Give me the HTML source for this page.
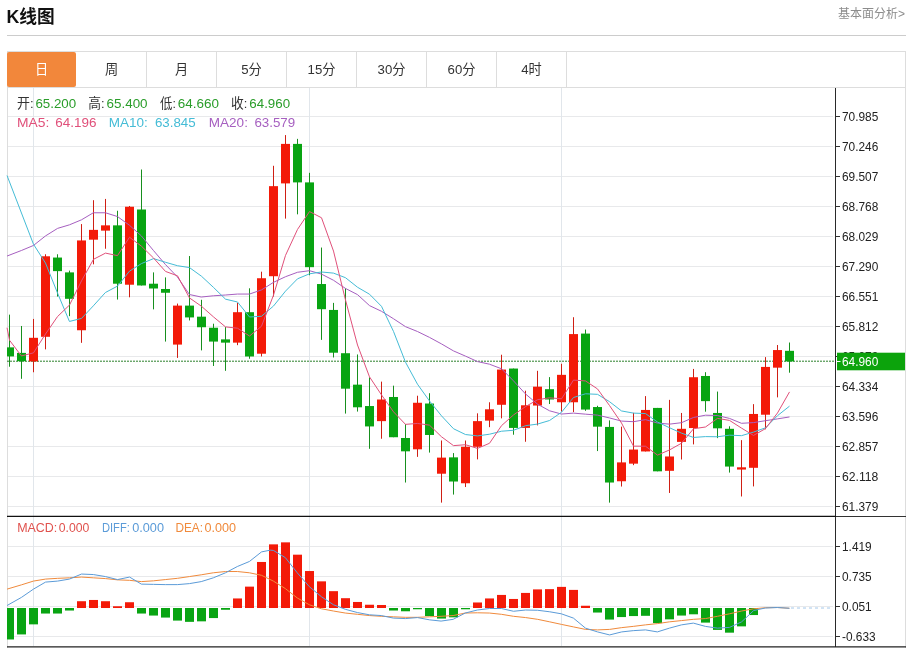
<!DOCTYPE html>
<html lang="zh-CN"><head><meta charset="utf-8"><title>K线图</title>
<style>
html,body{margin:0;padding:0;background:#fff;}
body{width:914px;height:648px;position:relative;overflow:hidden;font-family:"Liberation Sans","Noto Sans CJK SC",sans-serif;color:#333;}
.title{position:absolute;left:6.6px;top:4.6px;font-size:17.7px;font-weight:bold;color:#111;line-height:24px;white-space:nowrap;}
.more{position:absolute;right:9px;top:5px;font-size:12px;color:#8c8c8c;line-height:18px;white-space:nowrap;}
.hr{position:absolute;left:7px;width:899px;top:35px;height:1px;background:#ccc;}
.tabs{position:absolute;left:7px;top:51px;width:897px;height:35px;border:1px solid #ddd;background:#fff;}
.tab{position:absolute;top:0;height:35px;width:69px;border-right:1px solid #ddd;text-align:center;line-height:36px;font-size:13.2px;color:#333;}
.tab.on{background:#f2873b;color:#fff;border-right-color:#f2873b;border-radius:2px;top:0;height:35px;}
.chart{position:absolute;left:0;top:88px;}
.ax{font-family:"Liberation Sans",sans-serif;font-size:13px;}
.inf{font-family:"Liberation Sans","Noto Sans CJK SC",sans-serif;font-size:13.3px;}
</style></head><body>
<div class="title">K线图</div>
<div class="more">基本面分析&gt;</div>
<div class="hr"></div>
<div class="tabs">
<div class="tab on" style="left:-1px;width:69.4px;border-right:none">日</div>
<div class="tab" style="left:69px">周</div>
<div class="tab" style="left:139px">月</div>
<div class="tab" style="left:209px">5分</div>
<div class="tab" style="left:279px">15分</div>
<div class="tab" style="left:349px">30分</div>
<div class="tab" style="left:419px">60分</div>
<div class="tab" style="left:489px">4时</div>
</div>
<svg class="chart" width="914" height="560" viewBox="0 88 914 560" shape-rendering="auto">
<line x1="7" x2="833" y1="116.5" y2="116.5" stroke="#e8e9eb" stroke-width="1"/>
<line x1="7" x2="833" y1="146.5" y2="146.5" stroke="#e8e9eb" stroke-width="1"/>
<line x1="7" x2="833" y1="176.5" y2="176.5" stroke="#e8e9eb" stroke-width="1"/>
<line x1="7" x2="833" y1="206.5" y2="206.5" stroke="#e8e9eb" stroke-width="1"/>
<line x1="7" x2="833" y1="236.5" y2="236.5" stroke="#e8e9eb" stroke-width="1"/>
<line x1="7" x2="833" y1="266.5" y2="266.5" stroke="#e8e9eb" stroke-width="1"/>
<line x1="7" x2="833" y1="296.5" y2="296.5" stroke="#e8e9eb" stroke-width="1"/>
<line x1="7" x2="833" y1="326.5" y2="326.5" stroke="#e8e9eb" stroke-width="1"/>
<line x1="7" x2="833" y1="356.5" y2="356.5" stroke="#e8e9eb" stroke-width="1"/>
<line x1="7" x2="833" y1="386.5" y2="386.5" stroke="#e8e9eb" stroke-width="1"/>
<line x1="7" x2="833" y1="416.5" y2="416.5" stroke="#e8e9eb" stroke-width="1"/>
<line x1="7" x2="833" y1="446.5" y2="446.5" stroke="#e8e9eb" stroke-width="1"/>
<line x1="7" x2="833" y1="476.5" y2="476.5" stroke="#e8e9eb" stroke-width="1"/>
<line x1="7" x2="833" y1="506.5" y2="506.5" stroke="#e8e9eb" stroke-width="1"/>
<line x1="7" x2="833" y1="546.5" y2="546.5" stroke="#e8e9eb" stroke-width="1"/>
<line x1="7" x2="833" y1="576.5" y2="576.5" stroke="#e8e9eb" stroke-width="1"/>
<line x1="7" x2="833" y1="606.5" y2="606.5" stroke="#e8e9eb" stroke-width="1"/>
<line x1="7" x2="833" y1="636.5" y2="636.5" stroke="#e8e9eb" stroke-width="1"/>
<line x1="33.5" x2="33.5" y1="88" y2="646" stroke="#e1e6eb" stroke-width="1"/>
<line x1="309.5" x2="309.5" y1="88" y2="646" stroke="#e1e6eb" stroke-width="1"/>
<line x1="561.5" x2="561.5" y1="88" y2="646" stroke="#e1e6eb" stroke-width="1"/>
<line x1="7.5" x2="7.5" y1="88" y2="648" stroke="#ddd" stroke-width="1"/>
<line x1="905.5" x2="905.5" y1="88" y2="648" stroke="#ddd" stroke-width="1"/>
<line x1="7" x2="835" y1="361.2" y2="361.2" stroke="#2a802a" stroke-width="1" stroke-dasharray="2,1"/>
<defs><clipPath id="cp"><rect x="7" y="88" width="828" height="560"/></clipPath></defs>
<g clip-path="url(#cp)">
<line x1="9.5" x2="9.5" y1="314.65" y2="366.73" stroke="#178f1e" stroke-width="1"/>
<rect x="5" y="347.36" width="9" height="9.06" fill="#08a412"/>
<line x1="21.5" x2="21.5" y1="325.97" y2="378.81" stroke="#178f1e" stroke-width="1"/>
<rect x="17" y="352.89" width="9" height="8.3" fill="#08a412"/>
<line x1="33.5" x2="33.5" y1="318.93" y2="372.26" stroke="#cf1f14" stroke-width="1"/>
<rect x="29" y="337.8" width="9" height="23.65" fill="#f31a08"/>
<line x1="45.5" x2="45.5" y1="254.28" y2="349.37" stroke="#cf1f14" stroke-width="1"/>
<rect x="41" y="256.29" width="9" height="80.5" fill="#f31a08"/>
<line x1="57.5" x2="57.5" y1="254.28" y2="296.54" stroke="#178f1e" stroke-width="1"/>
<rect x="53" y="257.55" width="9" height="13.58" fill="#08a412"/>
<line x1="69.5" x2="69.5" y1="270.63" y2="316.16" stroke="#178f1e" stroke-width="1"/>
<rect x="65" y="272.39" width="9" height="26.42" fill="#08a412"/>
<line x1="81.5" x2="81.5" y1="224.09" y2="342.83" stroke="#cf1f14" stroke-width="1"/>
<rect x="77" y="240.44" width="9" height="89.81" fill="#f31a08"/>
<line x1="93.5" x2="93.5" y1="200.19" y2="264.34" stroke="#cf1f14" stroke-width="1"/>
<rect x="89" y="229.87" width="9" height="9.81" fill="#f31a08"/>
<line x1="105.5" x2="105.5" y1="198.93" y2="248.74" stroke="#cf1f14" stroke-width="1"/>
<rect x="101" y="225.35" width="9" height="5.28" fill="#f31a08"/>
<line x1="117.5" x2="117.5" y1="210.75" y2="299.56" stroke="#178f1e" stroke-width="1"/>
<rect x="113" y="225.35" width="9" height="58.36" fill="#08a412"/>
<line x1="129.5" x2="129.5" y1="205.97" y2="297.3" stroke="#cf1f14" stroke-width="1"/>
<rect x="125" y="206.73" width="9" height="77.99" fill="#f31a08"/>
<line x1="141.5" x2="141.5" y1="169.5" y2="285.47" stroke="#178f1e" stroke-width="1"/>
<rect x="137" y="209.5" width="9" height="75.97" fill="#08a412"/>
<line x1="153.5" x2="153.5" y1="272.39" y2="309.37" stroke="#178f1e" stroke-width="1"/>
<rect x="149" y="283.71" width="9" height="4.78" fill="#08a412"/>
<line x1="165.5" x2="165.5" y1="277.42" y2="341.57" stroke="#178f1e" stroke-width="1"/>
<rect x="161" y="288.99" width="9" height="3.77" fill="#08a412"/>
<line x1="177.5" x2="177.5" y1="303.58" y2="357.92" stroke="#cf1f14" stroke-width="1"/>
<rect x="173" y="305.6" width="9" height="38.99" fill="#f31a08"/>
<line x1="189.5" x2="189.5" y1="256.04" y2="320.44" stroke="#178f1e" stroke-width="1"/>
<rect x="185" y="305.6" width="9" height="11.82" fill="#08a412"/>
<line x1="201.5" x2="201.5" y1="299.81" y2="350.38" stroke="#178f1e" stroke-width="1"/>
<rect x="197" y="316.67" width="9" height="10.57" fill="#08a412"/>
<line x1="213.5" x2="213.5" y1="323.71" y2="365.97" stroke="#178f1e" stroke-width="1"/>
<rect x="209" y="327.74" width="9" height="13.84" fill="#08a412"/>
<line x1="225.5" x2="225.5" y1="327.04" y2="370.82" stroke="#178f1e" stroke-width="1"/>
<rect x="221" y="339.37" width="9" height="3.27" fill="#08a412"/>
<line x1="237.5" x2="237.5" y1="302.89" y2="345.16" stroke="#cf1f14" stroke-width="1"/>
<rect x="233" y="312.2" width="9" height="30.44" fill="#f31a08"/>
<line x1="249.5" x2="249.5" y1="288.3" y2="358.74" stroke="#178f1e" stroke-width="1"/>
<rect x="245" y="312.2" width="9" height="44.28" fill="#08a412"/>
<line x1="261.5" x2="261.5" y1="271.7" y2="356.48" stroke="#cf1f14" stroke-width="1"/>
<rect x="257" y="278.24" width="9" height="75.47" fill="#f31a08"/>
<line x1="273.5" x2="273.5" y1="165.79" y2="296.6" stroke="#cf1f14" stroke-width="1"/>
<rect x="269" y="186.16" width="9" height="90.06" fill="#f31a08"/>
<line x1="285.5" x2="285.5" y1="135.09" y2="218.62" stroke="#cf1f14" stroke-width="1"/>
<rect x="281" y="143.9" width="9" height="39.5" fill="#f31a08"/>
<line x1="297.5" x2="297.5" y1="138.87" y2="214.34" stroke="#178f1e" stroke-width="1"/>
<rect x="293" y="143.9" width="9" height="38.49" fill="#08a412"/>
<line x1="309.5" x2="309.5" y1="172.83" y2="275.22" stroke="#178f1e" stroke-width="1"/>
<rect x="305" y="182.39" width="9" height="84.78" fill="#08a412"/>
<line x1="321.5" x2="321.5" y1="247.55" y2="339.87" stroke="#178f1e" stroke-width="1"/>
<rect x="317" y="284.03" width="9" height="25.16" fill="#08a412"/>
<line x1="333.5" x2="333.5" y1="302.89" y2="357.48" stroke="#178f1e" stroke-width="1"/>
<rect x="329" y="309.94" width="9" height="42.77" fill="#08a412"/>
<line x1="345.5" x2="345.5" y1="288.3" y2="413.58" stroke="#178f1e" stroke-width="1"/>
<rect x="341" y="353.21" width="9" height="35.47" fill="#08a412"/>
<line x1="357.5" x2="357.5" y1="354.47" y2="411.57" stroke="#178f1e" stroke-width="1"/>
<rect x="353" y="384.65" width="9" height="22.64" fill="#08a412"/>
<line x1="369.5" x2="369.5" y1="377.36" y2="448.81" stroke="#178f1e" stroke-width="1"/>
<rect x="365" y="406.04" width="9" height="20.38" fill="#08a412"/>
<line x1="381.5" x2="381.5" y1="381.64" y2="438.74" stroke="#cf1f14" stroke-width="1"/>
<rect x="377" y="399.5" width="9" height="21.64" fill="#f31a08"/>
<line x1="393.5" x2="393.5" y1="385.66" y2="437.23" stroke="#178f1e" stroke-width="1"/>
<rect x="389" y="396.98" width="9" height="40.25" fill="#08a412"/>
<line x1="405.5" x2="405.5" y1="424.15" y2="482.52" stroke="#178f1e" stroke-width="1"/>
<rect x="401" y="437.99" width="9" height="13.33" fill="#08a412"/>
<line x1="417.5" x2="417.5" y1="395.72" y2="456.86" stroke="#cf1f14" stroke-width="1"/>
<rect x="413" y="402.77" width="9" height="46.54" fill="#f31a08"/>
<line x1="429.5" x2="429.5" y1="393.21" y2="452.58" stroke="#178f1e" stroke-width="1"/>
<rect x="425" y="403.52" width="9" height="31.45" fill="#08a412"/>
<line x1="441.5" x2="441.5" y1="440.5" y2="502.64" stroke="#cf1f14" stroke-width="1"/>
<rect x="437" y="457.61" width="9" height="16.1" fill="#f31a08"/>
<line x1="453.5" x2="453.5" y1="453.08" y2="494.59" stroke="#178f1e" stroke-width="1"/>
<rect x="449" y="457.36" width="9" height="24.15" fill="#08a412"/>
<line x1="465.5" x2="465.5" y1="440.5" y2="487.04" stroke="#cf1f14" stroke-width="1"/>
<rect x="461" y="446.79" width="9" height="36.48" fill="#f31a08"/>
<line x1="477.5" x2="477.5" y1="413.33" y2="459.37" stroke="#cf1f14" stroke-width="1"/>
<rect x="473" y="421.13" width="9" height="25.66" fill="#f31a08"/>
<line x1="489.5" x2="489.5" y1="402.26" y2="427.17" stroke="#cf1f14" stroke-width="1"/>
<rect x="485" y="409.31" width="9" height="11.32" fill="#f31a08"/>
<line x1="501.5" x2="501.5" y1="354.72" y2="418.36" stroke="#cf1f14" stroke-width="1"/>
<rect x="497" y="369.56" width="9" height="35.22" fill="#f31a08"/>
<line x1="513.5" x2="513.5" y1="368.55" y2="434.72" stroke="#178f1e" stroke-width="1"/>
<rect x="509" y="368.55" width="9" height="59.37" fill="#08a412"/>
<line x1="525.5" x2="525.5" y1="390.69" y2="441.76" stroke="#cf1f14" stroke-width="1"/>
<rect x="521" y="405.28" width="9" height="22.64" fill="#f31a08"/>
<line x1="537.5" x2="537.5" y1="370.82" y2="425.41" stroke="#cf1f14" stroke-width="1"/>
<rect x="533" y="386.67" width="9" height="18.87" fill="#f31a08"/>
<line x1="549.5" x2="549.5" y1="377.11" y2="404.03" stroke="#178f1e" stroke-width="1"/>
<rect x="545" y="389.18" width="9" height="10.31" fill="#08a412"/>
<line x1="561.5" x2="561.5" y1="363.77" y2="411.57" stroke="#cf1f14" stroke-width="1"/>
<rect x="557" y="374.84" width="9" height="27.42" fill="#f31a08"/>
<line x1="573.5" x2="573.5" y1="317.23" y2="412.08" stroke="#cf1f14" stroke-width="1"/>
<rect x="569" y="334.09" width="9" height="68.18" fill="#f31a08"/>
<line x1="585.5" x2="585.5" y1="329.56" y2="410.82" stroke="#178f1e" stroke-width="1"/>
<rect x="581" y="333.58" width="9" height="75.97" fill="#08a412"/>
<line x1="597.5" x2="597.5" y1="405.79" y2="451.07" stroke="#178f1e" stroke-width="1"/>
<rect x="593" y="407.04" width="9" height="19.62" fill="#08a412"/>
<line x1="609.5" x2="609.5" y1="420.38" y2="502.64" stroke="#178f1e" stroke-width="1"/>
<rect x="605" y="426.92" width="9" height="55.6" fill="#08a412"/>
<line x1="621.5" x2="621.5" y1="426.67" y2="486.54" stroke="#cf1f14" stroke-width="1"/>
<rect x="617" y="462.39" width="9" height="18.87" fill="#f31a08"/>
<line x1="633.5" x2="633.5" y1="412.83" y2="465.16" stroke="#cf1f14" stroke-width="1"/>
<rect x="629" y="449.56" width="9" height="14.09" fill="#f31a08"/>
<line x1="645.5" x2="645.5" y1="396.1" y2="451.45" stroke="#cf1f14" stroke-width="1"/>
<rect x="641" y="409.94" width="9" height="41.51" fill="#f31a08"/>
<line x1="657.5" x2="657.5" y1="407.92" y2="471.32" stroke="#178f1e" stroke-width="1"/>
<rect x="653" y="407.92" width="9" height="63.4" fill="#08a412"/>
<line x1="669.5" x2="669.5" y1="399.87" y2="492.96" stroke="#cf1f14" stroke-width="1"/>
<rect x="665" y="456.48" width="9" height="14.34" fill="#f31a08"/>
<line x1="681.5" x2="681.5" y1="412.96" y2="459.5" stroke="#cf1f14" stroke-width="1"/>
<rect x="677" y="428.81" width="9" height="13.08" fill="#f31a08"/>
<line x1="693.5" x2="693.5" y1="368.93" y2="444.4" stroke="#cf1f14" stroke-width="1"/>
<rect x="689" y="377.23" width="9" height="50.82" fill="#f31a08"/>
<line x1="705.5" x2="705.5" y1="372.2" y2="411.7" stroke="#178f1e" stroke-width="1"/>
<rect x="701" y="375.97" width="9" height="25.16" fill="#08a412"/>
<line x1="717.5" x2="717.5" y1="391.57" y2="438.11" stroke="#178f1e" stroke-width="1"/>
<rect x="713" y="412.96" width="9" height="15.35" fill="#08a412"/>
<line x1="729.5" x2="729.5" y1="426.29" y2="472.58" stroke="#178f1e" stroke-width="1"/>
<rect x="725" y="428.81" width="9" height="37.74" fill="#08a412"/>
<line x1="741.5" x2="741.5" y1="440.13" y2="496.48" stroke="#cf1f14" stroke-width="1"/>
<rect x="737" y="467.3" width="9" height="2.26" fill="#f31a08"/>
<line x1="753.5" x2="753.5" y1="404.15" y2="486.42" stroke="#cf1f14" stroke-width="1"/>
<rect x="749" y="413.96" width="9" height="53.84" fill="#f31a08"/>
<line x1="765.5" x2="765.5" y1="357.11" y2="429.31" stroke="#cf1f14" stroke-width="1"/>
<rect x="761" y="366.92" width="9" height="47.8" fill="#f31a08"/>
<line x1="777.5" x2="777.5" y1="345.03" y2="397.36" stroke="#cf1f14" stroke-width="1"/>
<rect x="773" y="350.06" width="9" height="17.61" fill="#f31a08"/>
<line x1="789.5" x2="789.5" y1="342.52" y2="372.7" stroke="#178f1e" stroke-width="1"/>
<rect x="785" y="350.82" width="9" height="10.57" fill="#08a412"/>
</g>
<polyline points="7.04,256.04 21.38,250.5 33.46,245.47 45.53,235.91 57.61,228.36 69.43,224.84 81.51,219.81 93.33,212.77 105.41,212.77 117.48,216.54 129.56,225.35 141.38,235.91 153.46,250.5 165.28,264.34 177.36,276.92 189.43,294.53 201.26,297.04 213.33,295.79 225.41,295.03 237.5,294.06 249.5,294.06 261.5,289.91 273.5,282.33 285.5,276.71 297.5,272.27 309.5,270.69 321.5,274.13 333.5,280.27 345.5,288.44 357.5,294.62 369.5,305.6 381.5,311.3 393.5,318.74 405.5,326.67 417.5,331.53 429.5,337.4 441.5,343.92 453.5,350.92 465.5,356.13 477.5,361.57 489.5,364.21 501.5,368.78 513.5,380.87 525.5,393.94 537.5,404.15 549.5,410.77 561.5,414.05 573.5,413.12 585.5,414.16 597.5,415.13 609.5,417.94 621.5,421.08 633.5,421.7 645.5,419.63 657.5,423.06 669.5,424.13 681.5,422.69 693.5,417.48 705.5,415.2 717.5,415.55 729.5,418.42 741.5,423.3 753.5,422.6 765.5,420.69 777.5,418.86 789.5,416.95" fill="none" stroke="#a65fc0" stroke-width="1.0" stroke-linejoin="round"/>
<polyline points="7.04,175.53 33.46,244.21 45.53,263.08 57.61,293.27 69.43,321.45 81.51,318.43 93.33,305.85 105.41,292.52 117.5,286.1 129.5,271.13 141.5,263.56 153.5,258.63 165.5,262.28 177.5,265.72 189.5,267.58 201.5,276.26 213.5,287.43 225.5,299.16 237.5,302.01 249.5,316.99 261.5,316.26 273.5,306.03 285.5,291.14 297.5,278.82 309.5,273.8 321.5,271.99 333.5,273.11 345.5,277.71 357.5,287.22 369.5,294.21 381.5,306.34 393.5,331.45 405.5,362.19 417.5,384.23 429.5,401.01 441.5,415.85 453.5,428.73 465.5,434.54 477.5,435.92 489.5,434.21 501.5,431.22 513.5,430.29 525.5,425.69 537.5,424.08 549.5,420.53 561.5,412.25 573.5,397.51 585.5,393.79 597.5,394.34 609.5,401.66 621.5,410.94 633.5,413.11 645.5,413.57 657.5,422.04 669.5,427.74 681.5,433.13 693.5,437.45 705.5,436.6 717.5,436.77 729.5,435.17 741.5,435.66 753.5,432.1 765.5,427.8 777.5,415.67 789.5,406.16" fill="none" stroke="#45bcd6" stroke-width="1.0" stroke-linejoin="round"/>
<polyline points="7.04,327.74 9.56,340.31 21.38,355.91 33.46,352.89 45.53,334.03 57.5,316.57 69.5,305.04 81.5,280.89 93.5,259.31 105.5,253.12 117.5,255.64 129.5,237.22 141.5,246.23 153.5,257.95 165.5,271.43 177.5,275.81 189.5,297.95 201.5,306.3 213.5,316.92 225.5,326.89 237.5,328.21 249.5,336.03 261.5,326.23 273.5,295.14 285.5,255.4 297.5,229.43 309.5,211.57 321.5,217.76 333.5,251.07 345.5,300.03 357.5,345.01 369.5,376.86 381.5,394.92 393.5,411.82 405.5,424.35 417.5,423.45 429.5,425.16 441.5,436.78 453.5,445.64 465.5,444.73 477.5,448.4 489.5,443.27 501.5,425.66 513.5,414.94 525.5,406.64 537.5,399.75 549.5,397.79 561.5,398.84 573.5,380.08 585.5,380.93 597.5,388.93 609.5,405.53 621.5,423.04 633.5,446.14 645.5,446.21 657.5,455.14 669.5,449.94 681.5,443.22 693.5,428.75 705.5,426.99 717.5,418.39 729.5,420.4 741.5,428.1 753.5,435.45 765.5,428.6 777.5,412.96 789.5,391.92" fill="none" stroke="#e0507a" stroke-width="1.0" stroke-linejoin="round"/>
<rect x="7" y="608.01" width="7" height="31.45" fill="#08a412"/>
<rect x="17" y="608.01" width="9" height="26.42" fill="#08a412"/>
<rect x="29" y="608.01" width="9" height="16.35" fill="#08a412"/>
<rect x="41" y="608.01" width="9" height="5.53" fill="#08a412"/>
<rect x="53" y="608.01" width="9" height="5.53" fill="#08a412"/>
<rect x="65" y="608.01" width="9" height="2.52" fill="#08a412"/>
<rect x="77" y="601.22" width="9" height="6.79" fill="#f31a08"/>
<rect x="89" y="599.96" width="9" height="8.05" fill="#f31a08"/>
<rect x="101" y="601.22" width="9" height="6.79" fill="#f31a08"/>
<rect x="113" y="606.25" width="9" height="1.76" fill="#f31a08"/>
<rect x="125" y="602.23" width="9" height="5.79" fill="#f31a08"/>
<rect x="137" y="608.01" width="9" height="5.53" fill="#08a412"/>
<rect x="149" y="608.01" width="9" height="7.55" fill="#08a412"/>
<rect x="161" y="608.01" width="9" height="9.56" fill="#08a412"/>
<rect x="173" y="608.01" width="9" height="12.58" fill="#08a412"/>
<rect x="185" y="608.01" width="9" height="13.84" fill="#08a412"/>
<rect x="197" y="608.01" width="9" height="13.33" fill="#08a412"/>
<rect x="209" y="608.01" width="9" height="10.06" fill="#08a412"/>
<rect x="221" y="608.01" width="9" height="1.76" fill="#08a412"/>
<rect x="233" y="598.45" width="9" height="9.56" fill="#f31a08"/>
<rect x="245" y="586.63" width="9" height="21.38" fill="#f31a08"/>
<rect x="257" y="561.97" width="9" height="46.04" fill="#f31a08"/>
<rect x="269" y="544.36" width="9" height="63.65" fill="#f31a08"/>
<rect x="281" y="542.35" width="9" height="65.66" fill="#f31a08"/>
<rect x="293" y="554.68" width="9" height="53.33" fill="#f31a08"/>
<rect x="305" y="571.03" width="9" height="36.98" fill="#f31a08"/>
<rect x="317" y="581.35" width="9" height="26.67" fill="#f31a08"/>
<rect x="329" y="591.16" width="9" height="16.86" fill="#f31a08"/>
<rect x="341" y="598.2" width="9" height="9.81" fill="#f31a08"/>
<rect x="353" y="601.97" width="9" height="6.04" fill="#f31a08"/>
<rect x="365" y="604.74" width="9" height="3.27" fill="#f31a08"/>
<rect x="377" y="604.99" width="9" height="3.02" fill="#f31a08"/>
<rect x="389" y="608.01" width="9" height="2.52" fill="#08a412"/>
<rect x="401" y="608.01" width="9" height="3.27" fill="#08a412"/>
<rect x="413" y="608.01" width="9" height="1.26" fill="#08a412"/>
<rect x="425" y="608.01" width="9" height="8.05" fill="#08a412"/>
<rect x="437" y="608.01" width="9" height="10.57" fill="#08a412"/>
<rect x="449" y="608.01" width="9" height="9.31" fill="#08a412"/>
<rect x="461" y="608.01" width="9" height="1.26" fill="#08a412"/>
<rect x="473" y="602.48" width="9" height="5.53" fill="#f31a08"/>
<rect x="485" y="598.45" width="9" height="9.56" fill="#f31a08"/>
<rect x="497" y="594.93" width="9" height="13.08" fill="#f31a08"/>
<rect x="509" y="598.96" width="9" height="9.06" fill="#f31a08"/>
<rect x="521" y="592.92" width="9" height="15.09" fill="#f31a08"/>
<rect x="533" y="589.4" width="9" height="18.62" fill="#f31a08"/>
<rect x="545" y="589.14" width="9" height="18.87" fill="#f31a08"/>
<rect x="557" y="586.88" width="9" height="21.13" fill="#f31a08"/>
<rect x="569" y="589.9" width="9" height="18.11" fill="#f31a08"/>
<rect x="581" y="605.75" width="9" height="2.26" fill="#f31a08"/>
<rect x="593" y="608.01" width="9" height="4.53" fill="#08a412"/>
<rect x="605" y="608.01" width="9" height="11.57" fill="#08a412"/>
<rect x="617" y="608.01" width="9" height="9.06" fill="#08a412"/>
<rect x="629" y="608.01" width="9" height="8.05" fill="#08a412"/>
<rect x="641" y="608.01" width="9" height="7.8" fill="#08a412"/>
<rect x="653" y="608.01" width="9" height="15.09" fill="#08a412"/>
<rect x="665" y="608.01" width="9" height="11.32" fill="#08a412"/>
<rect x="677" y="608.01" width="9" height="7.55" fill="#08a412"/>
<rect x="689" y="608.01" width="9" height="6.29" fill="#08a412"/>
<rect x="701" y="608.01" width="9" height="14.59" fill="#08a412"/>
<rect x="713" y="608.01" width="9" height="21.89" fill="#08a412"/>
<rect x="725" y="608.01" width="9" height="24.65" fill="#08a412"/>
<rect x="737" y="608.01" width="9" height="18.36" fill="#08a412"/>
<rect x="749" y="608.01" width="9" height="7.04" fill="#08a412"/>
<polyline points="7.04,589.14 21.38,584.87 33.46,581.09 45.53,579.08 57.61,578.33 69.43,577.82 81.51,577.07 93.33,577.82 105.41,578.58 117.48,579.84 129.56,580.34 141.38,581.6 153.46,580.84 165.28,579.58 177.36,578.33 189.43,576.57 201.26,574.81 213.33,572.79 225.53,571.53 237.36,571.53 249.43,572.79 261.51,575.31 273.33,581.09 285.41,588.64 297.23,597.95 309.31,604.74 321.38,608.77 333.46,611.03 345.28,613.04 357.36,614.3 369.43,615.56 381.26,616.31 393.33,616.82 405.41,617.32 417.48,617.32 429.56,616.82 441.07,616.31 453.14,615.56 465.22,613.04 477.3,612.79 489.37,613.04 501.45,614.3 513.52,616.31 525.6,617.57 537.67,619.33 549.75,621.85 561.32,624.36 573.4,626.88 585.47,629.4 597.55,629.9 609.62,629.4 621.7,627.64 633.27,626.38 645.53,624.87 657.36,623.61 669.43,621.85 681.51,620.59 693.33,619.33 705.41,618.58 717.48,616.31 729.56,613.8 741.64,611.03 753.71,608.77 765.28,607.76 777.36,607.51 789.43,608.26" fill="none" stroke="#f08a3c" stroke-width="1.0" stroke-linejoin="round"/>
<polyline points="7.04,605.5 21.38,597.45 33.46,589.14 45.53,582.1 57.61,581.09 69.43,579.08 81.51,574.05 93.33,574.55 105.41,576.57 117.48,579.58 129.56,577.07 141.38,584.11 153.46,584.36 165.28,584.62 177.36,584.62 189.43,583.61 201.26,581.6 213.33,577.82 225.53,572.79 237.36,566.5 249.43,561.47 261.51,551.91 270.31,550.15 273.33,550.4 285.41,557.7 297.23,572.79 309.31,586.63 321.38,596.69 333.46,604.74 345.28,609.27 357.36,612.54 369.43,614.81 381.26,615.56 393.33,618.08 405.41,618.58 417.48,617.57 429.56,619.84 441.07,621.09 453.14,619.33 465.22,613.04 477.3,610.03 489.37,608.52 501.45,608.52 513.52,611.28 525.6,610.03 537.67,610.28 549.75,611.79 561.32,613.8 573.4,618.08 585.47,628.14 597.55,631.91 609.62,634.93 621.7,631.91 633.27,630.65 645.53,629.9 657.36,631.91 669.43,628.14 681.51,624.87 693.33,623.11 705.41,626.38 717.48,628.14 729.56,627.38 741.64,621.85 753.71,610.53 765.28,608.01 777.36,607.51 789.43,608.26" fill="none" stroke="#5b9bd8" stroke-width="1.0" stroke-linejoin="round"/>
<line x1="791" x2="833" y1="608" y2="608" stroke="#a4c8ea" stroke-width="1" stroke-dasharray="3,3"/>
<line x1="835.5" x2="835.5" y1="88" y2="647" stroke="#2a2a2a" stroke-width="1"/>
<line x1="7" x2="906" y1="516.5" y2="516.5" stroke="#333" stroke-width="1"/>
<line x1="7" x2="836" y1="516.4" y2="516.4" stroke="#111" stroke-width="1.2"/>
<line x1="7" x2="906" y1="646.9" y2="646.9" stroke="#222" stroke-width="1.1"/>
<line x1="836" x2="840" y1="116.5" y2="116.5" stroke="#333" stroke-width="1"/>
<text x="842" y="120.5" class="ax" textLength="36.3" lengthAdjust="spacingAndGlyphs" fill="#222">70.985</text>
<line x1="836" x2="840" y1="146.5" y2="146.5" stroke="#333" stroke-width="1"/>
<text x="842" y="150.5" class="ax" textLength="36.3" lengthAdjust="spacingAndGlyphs" fill="#222">70.246</text>
<line x1="836" x2="840" y1="176.5" y2="176.5" stroke="#333" stroke-width="1"/>
<text x="842" y="180.5" class="ax" textLength="36.3" lengthAdjust="spacingAndGlyphs" fill="#222">69.507</text>
<line x1="836" x2="840" y1="206.5" y2="206.5" stroke="#333" stroke-width="1"/>
<text x="842" y="210.5" class="ax" textLength="36.3" lengthAdjust="spacingAndGlyphs" fill="#222">68.768</text>
<line x1="836" x2="840" y1="236.5" y2="236.5" stroke="#333" stroke-width="1"/>
<text x="842" y="240.5" class="ax" textLength="36.3" lengthAdjust="spacingAndGlyphs" fill="#222">68.029</text>
<line x1="836" x2="840" y1="266.5" y2="266.5" stroke="#333" stroke-width="1"/>
<text x="842" y="270.5" class="ax" textLength="36.3" lengthAdjust="spacingAndGlyphs" fill="#222">67.290</text>
<line x1="836" x2="840" y1="296.5" y2="296.5" stroke="#333" stroke-width="1"/>
<text x="842" y="300.5" class="ax" textLength="36.3" lengthAdjust="spacingAndGlyphs" fill="#222">66.551</text>
<line x1="836" x2="840" y1="326.5" y2="326.5" stroke="#333" stroke-width="1"/>
<text x="842" y="330.5" class="ax" textLength="36.3" lengthAdjust="spacingAndGlyphs" fill="#222">65.812</text>
<line x1="836" x2="840" y1="356.5" y2="356.5" stroke="#333" stroke-width="1"/>
<text x="842" y="360.5" class="ax" textLength="36.3" lengthAdjust="spacingAndGlyphs" fill="#222">65.073</text>
<line x1="836" x2="840" y1="386.5" y2="386.5" stroke="#333" stroke-width="1"/>
<text x="842" y="390.5" class="ax" textLength="36.3" lengthAdjust="spacingAndGlyphs" fill="#222">64.334</text>
<line x1="836" x2="840" y1="416.5" y2="416.5" stroke="#333" stroke-width="1"/>
<text x="842" y="420.5" class="ax" textLength="36.3" lengthAdjust="spacingAndGlyphs" fill="#222">63.596</text>
<line x1="836" x2="840" y1="446.5" y2="446.5" stroke="#333" stroke-width="1"/>
<text x="842" y="450.5" class="ax" textLength="36.3" lengthAdjust="spacingAndGlyphs" fill="#222">62.857</text>
<line x1="836" x2="840" y1="476.5" y2="476.5" stroke="#333" stroke-width="1"/>
<text x="842" y="480.5" class="ax" textLength="36.3" lengthAdjust="spacingAndGlyphs" fill="#222">62.118</text>
<line x1="836" x2="840" y1="506.5" y2="506.5" stroke="#333" stroke-width="1"/>
<text x="842" y="510.5" class="ax" textLength="36.3" lengthAdjust="spacingAndGlyphs" fill="#222">61.379</text>
<line x1="836" x2="840" y1="546.5" y2="546.5" stroke="#333" stroke-width="1"/>
<text x="842" y="550.5" class="ax" textLength="29.7" lengthAdjust="spacingAndGlyphs" fill="#222">1.419</text>
<line x1="836" x2="840" y1="576.5" y2="576.5" stroke="#333" stroke-width="1"/>
<text x="842" y="580.5" class="ax" textLength="29.7" lengthAdjust="spacingAndGlyphs" fill="#222">0.735</text>
<line x1="836" x2="840" y1="606.5" y2="606.5" stroke="#333" stroke-width="1"/>
<text x="842" y="610.5" class="ax" textLength="29.7" lengthAdjust="spacingAndGlyphs" fill="#222">0.051</text>
<line x1="836" x2="840" y1="636.5" y2="636.5" stroke="#333" stroke-width="1"/>
<text x="842" y="640.5" class="ax" textLength="33.65" lengthAdjust="spacingAndGlyphs" fill="#222">-0.633</text>
<rect x="837" y="352.7" width="68" height="17.6" fill="#0ca30c"/>
<line x1="837" x2="840.5" y1="361.5" y2="361.5" stroke="#fff" stroke-width="1"/>
<text x="842" y="365.8" class="ax" textLength="36.3" lengthAdjust="spacingAndGlyphs" fill="#fff">64.960</text>
<text x="17.1" y="108.3" class="inf" fill="#333" textLength="16.6" lengthAdjust="spacingAndGlyphs">开:</text>
<text x="35.4" y="108.3" class="inf" fill="#2a9d2a" textLength="40.8" lengthAdjust="spacingAndGlyphs">65.200</text>
<text x="88.3" y="108.3" class="inf" fill="#333" textLength="16.3" lengthAdjust="spacingAndGlyphs">高:</text>
<text x="106.5" y="108.3" class="inf" fill="#2a9d2a" textLength="41.1" lengthAdjust="spacingAndGlyphs">65.400</text>
<text x="160.1" y="108.3" class="inf" fill="#333" textLength="15.8" lengthAdjust="spacingAndGlyphs">低:</text>
<text x="177.7" y="108.3" class="inf" fill="#2a9d2a" textLength="41.2" lengthAdjust="spacingAndGlyphs">64.660</text>
<text x="231.1" y="108.3" class="inf" fill="#333" textLength="16.3" lengthAdjust="spacingAndGlyphs">收:</text>
<text x="249.3" y="108.3" class="inf" fill="#2a9d2a" textLength="40.8" lengthAdjust="spacingAndGlyphs">64.960</text>
<text x="17.1" y="126.7" class="inf" fill="#e0507a" textLength="32.3" lengthAdjust="spacingAndGlyphs">MA5:</text>
<text x="55.3" y="126.7" class="inf" fill="#e0507a" textLength="41.2" lengthAdjust="spacingAndGlyphs">64.196</text>
<text x="108.7" y="126.7" class="inf" fill="#45bcd6" textLength="39.1" lengthAdjust="spacingAndGlyphs">MA10:</text>
<text x="154.9" y="126.7" class="inf" fill="#45bcd6" textLength="40.8" lengthAdjust="spacingAndGlyphs">63.845</text>
<text x="208.8" y="126.7" class="inf" fill="#a65fc0" textLength="39.1" lengthAdjust="spacingAndGlyphs">MA20:</text>
<text x="254.4" y="126.7" class="inf" fill="#a65fc0" textLength="40.8" lengthAdjust="spacingAndGlyphs">63.579</text>
<text x="17.2" y="532.2" class="inf" fill="#e0524e" textLength="40.1" lengthAdjust="spacingAndGlyphs">MACD:</text>
<text x="58.8" y="532.2" class="inf" fill="#e0524e" textLength="30.6" lengthAdjust="spacingAndGlyphs">0.000</text>
<text x="102" y="532.2" class="inf" fill="#5b9bd8" textLength="27.8" lengthAdjust="spacingAndGlyphs">DIFF:</text>
<text x="132.2" y="532.2" class="inf" fill="#5b9bd8" textLength="31.8" lengthAdjust="spacingAndGlyphs">0.000</text>
<text x="175.4" y="532.2" class="inf" fill="#f08a3c" textLength="27.6" lengthAdjust="spacingAndGlyphs">DEA:</text>
<text x="204.4" y="532.2" class="inf" fill="#f08a3c" textLength="31.6" lengthAdjust="spacingAndGlyphs">0.000</text>
</svg>
</body></html>
